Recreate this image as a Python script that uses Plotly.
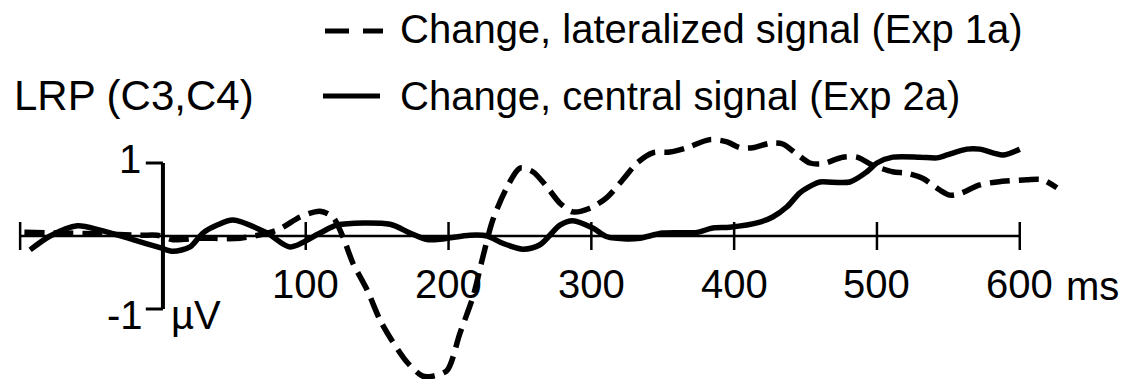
import plotly.graph_objects as go

# ---- data (ms, µV) ----
solid_t = [-93, -79, -60, -44, -21, -2, 7, 19, 28, 38, 49, 73, 89, 110, 122, 159, 173, 185, 196, 215,
           227, 238, 252, 264, 278, 287, 301, 311, 325, 334, 350, 374, 385, 397, 418, 427, 437, 446,
           455, 460, 481, 493, 500, 511, 530, 542, 549, 563, 572, 588, 600]
solid_v = [-0.19, 0.00, 0.14, 0.08, -0.05, -0.16, -0.21, -0.15, 0.04, 0.15, 0.22, 0.04, -0.15, 0.04,
           0.15, 0.16, 0.04, -0.05, -0.04, 0.01, 0.00, -0.10, -0.18, -0.12, 0.15, 0.21, 0.11, -0.01,
           -0.04, -0.03, 0.04, 0.05, 0.11, 0.12, 0.19, 0.26, 0.40, 0.59, 0.70, 0.74, 0.74, 0.88, 1.00,
           1.08, 1.08, 1.07, 1.11, 1.19, 1.19, 1.11, 1.19]

dash_t = [-97, -72, -44, -16, -4, 7, 26, 54, 80, 96, 110, 119, 126, 133, 143, 152, 160, 171, 182, 189,
          199, 208, 217, 224, 231, 241, 250, 259, 269, 278, 287, 299, 311, 322, 332, 343, 355, 367,
          383, 395, 404, 413, 425, 434, 444, 453, 462, 476, 486, 497, 511, 521, 532, 544, 551, 558,
          572, 584, 605, 616, 626]
dash_v = [0.05, 0.04, 0.03, 0.01, 0.01, -0.05, -0.03, -0.03, 0.08, 0.26, 0.34, 0.26, -0.01, -0.37,
          -0.74, -1.15, -1.42, -1.73, -1.92, -1.92, -1.84, -1.33, -0.84, -0.29, 0.22, 0.67, 0.93, 0.88,
          0.67, 0.45, 0.33, 0.38, 0.53, 0.77, 1.00, 1.14, 1.15, 1.21, 1.32, 1.29, 1.21, 1.21, 1.27,
          1.26, 1.12, 1.00, 0.99, 1.08, 1.08, 0.97, 0.88, 0.86, 0.79, 0.63, 0.56, 0.58, 0.70, 0.74,
          0.77, 0.77, 0.66]

x_ticks = [-100, 100, 200, 300, 400, 500, 600]
x_tick_labels = ["", "100", "200", "300", "400", "500", "600"]
y_scale = [-1, 1]
y_scale_labels = ["-1", "1"]

series_names = ["Change, lateralized signal (Exp 1a)", "Change, central signal (Exp 2a)"]
y_title = "LRP (C3,C4)"
x_unit = "ms"
y_unit = "µV"

W, H = 1127, 379
FONT = "Liberation Sans, Arial, sans-serif"


def px(xp):
    return xp / W


def py(yp):
    return 1 - yp / H


fig = go.Figure()

fig.add_trace(go.Scatter(x=dash_t, y=dash_v, mode="lines", line=dict(color="black", width=5.5,
                         dash="20px,9px", shape="spline", smoothing=0.8), name=series_names[0],
                         showlegend=False))
fig.add_trace(go.Scatter(x=solid_t, y=solid_v, mode="lines", line=dict(color="black", width=5.5,
                         shape="spline", smoothing=0.8), name=series_names[1], showlegend=False))

# tick marks crossing the x axis
fig.add_trace(go.Scatter(x=x_ticks, y=[0] * len(x_ticks), mode="markers",
                         marker=dict(symbol="line-ns", size=20, line=dict(color="black", width=2.5)),
                         showlegend=False, hoverinfo="skip"))

shapes = []
# x axis
shapes.append(dict(type="line", xref="x", yref="y", x0=x_ticks[0], x1=x_ticks[-1], y0=0, y1=0,
                   line=dict(color="black", width=2.3)))
# y scale bar
shapes.append(dict(type="line", xref="x", yref="y", x0=0, x1=0, y0=y_scale[0], y1=y_scale[1],
                   line=dict(color="black", width=4)))
for yv in y_scale:
    shapes.append(dict(type="line", xref="x", yref="y", x0=-12, x1=0, y0=yv, y1=yv,
                       line=dict(color="black", width=3)))

# legend samples
shapes.append(dict(type="line", xref="paper", yref="paper", x0=px(325), x1=px(383), y0=py(31), y1=py(31),
                   line=dict(color="black", width=5, dash="24px,14px")))
shapes.append(dict(type="line", xref="paper", yref="paper", x0=px(323), x1=px(380), y0=py(96), y1=py(96),
                   line=dict(color="black", width=5)))

ann = []
for t, lab in zip(x_ticks, x_tick_labels):
    if lab:
        ann.append(dict(x=t, y=0, xref="x", yref="y", text=lab, showarrow=False, xanchor="center",
                        yanchor="middle", yshift=-48, font=dict(family=FONT, size=40, color="black")))
ann.append(dict(x=x_ticks[-1], y=0, xref="x", yref="y", text=x_unit, showarrow=False, xanchor="left",
                yanchor="middle", xshift=44, yshift=-50, font=dict(family=FONT, size=40, color="black")))
ann.append(dict(x=0, y=y_scale[1], xref="x", yref="y", text=y_scale_labels[1], showarrow=False,
                xanchor="right", yanchor="middle", xshift=-20, yshift=4,
                font=dict(family=FONT, size=40, color="black")))
ann.append(dict(x=0, y=y_scale[0], xref="x", yref="y", text=y_scale_labels[0], showarrow=False,
                xanchor="right", yanchor="middle", xshift=-18, yshift=-6,
                font=dict(family=FONT, size=40, color="black")))
ann.append(dict(x=0, y=y_scale[0], xref="x", yref="y", text=y_unit, showarrow=False,
                xanchor="left", yanchor="middle", xshift=6, yshift=-6,
                font=dict(family=FONT, size=40, color="black")))

ann.append(dict(x=px(398), y=py(29), xref="paper", yref="paper", text=series_names[0], showarrow=False,
                xanchor="left", yanchor="middle", font=dict(family=FONT, size=40, color="black")))
ann.append(dict(x=px(398), y=py(96), xref="paper", yref="paper", text=series_names[1], showarrow=False,
                xanchor="left", yanchor="middle", font=dict(family=FONT, size=40, color="black")))
ann.append(dict(x=px(12), y=py(95), xref="paper", yref="paper", text=y_title, showarrow=False,
                xanchor="left", yanchor="middle", font=dict(family=FONT, size=42, color="black")))

fig.update_layout(
    width=W, height=H,
    margin=dict(l=0, r=0, t=0, b=0),
    paper_bgcolor="white", plot_bgcolor="white",
    xaxis=dict(range=[-114.1, 675.1], visible=False, fixedrange=True),
    yaxis=dict(range=[-1.959, 3.233], visible=False, fixedrange=True),
    shapes=shapes, annotations=ann,
    showlegend=False,
)

fig.write_html("out.html")
